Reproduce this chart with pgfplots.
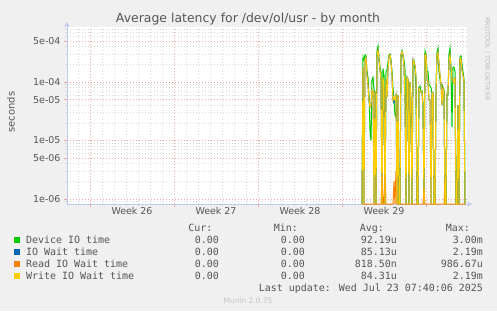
\documentclass[border=0pt]{standalone}
\usepackage{pgfplots}
\pgfplotsset{compat=1.18}
\usepackage{pgfplotstable}
\usepackage{fontspec}
\setmainfont{DejaVu Sans}
\newfontfamily\monofont{DejaVu Sans Mono}
\usetikzlibrary{arrows.meta}
\definecolor{bg}{HTML}{F0F0F0}
\definecolor{txt}{HTML}{555555}
\definecolor{majgrid}{HTML}{EAA8A8}
\definecolor{mingrid}{HTML}{D8D8D8}
\definecolor{axcol}{HTML}{C0C8F4}
\definecolor{cgreen}{HTML}{00CC00}
\definecolor{cblue}{HTML}{0066B3}
\definecolor{corange}{HTML}{FF8000}
\definecolor{cyellow}{HTML}{FFCC00}
% x = pixel column (12 per day, 2 h per step); values in seconds; 0 drawn at the bottom edge (8.2e-7)
\pgfplotstableread{
x g b r w
362 8.2e-7 8.2e-7 8.2e-7 8.2e-7
363 2.7e-4 1.8e-4 8.2e-7 1.8e-4
364 2.4e-4 8.2e-7 8.2e-7 8.2e-7
365 2.9e-4 2.4e-4 8.2e-7 2.4e-4
366 2.8e-4 2.6e-4 8.2e-7 2.6e-4
367 1.5e-4 1.3e-4 8.2e-7 1.3e-4
368 1.2e-4 8.9e-5 8.2e-7 8.9e-5
369 6.0e-5 4.9e-5 8.2e-7 4.9e-5
370 1.5e-5 3.7e-5 8.2e-7 3.7e-5
371 1.0e-5 4.0e-5 8.2e-7 4.0e-5
372 1.1e-4 7.3e-5 8.2e-7 7.3e-5
373 1.2e-4 6.9e-5 8.2e-7 6.9e-5
374 7.3e-5 8.2e-7 8.2e-7 8.2e-7
375 6.7e-5 6.9e-5 8.2e-7 6.9e-5
376 8.2e-7 8.2e-7 8.2e-7 8.2e-7
377 3.5e-4 2.9e-4 8.2e-7 2.9e-4
378 4.1e-4 3.5e-4 8.2e-7 3.5e-4
379 2.6e-4 2.4e-4 8.2e-7 2.4e-4
380 1.8e-4 1.6e-4 8.2e-7 1.6e-4
381 1.5e-4 1.1e-4 8.2e-7 1.1e-4
382 8.2e-7 8.2e-7 2.5e-6 8.2e-7
383 1.7e-4 9.0e-5 8.2e-7 1.2e-4
384 1.3e-4 7.3e-5 8.2e-7 7.3e-5
385 8.2e-7 8.2e-7 4.0e-6 8.2e-7
386 1.5e-4 1.1e-4 8.2e-7 1.1e-4
387 1.6e-4 5.5e-5 8.2e-7 5.5e-5
388 2.2e-4 1.6e-4 8.2e-7 1.6e-4
389 2.9e-4 2.8e-4 8.2e-7 2.8e-4
390 3.0e-4 2.9e-4 8.2e-7 2.9e-4
391 2.4e-4 2.2e-4 8.2e-7 2.2e-4
392 1.5e-4 1.3e-4 8.2e-7 1.3e-4
393 7.9e-5 4.9e-5 8.2e-7 4.9e-5
394 4.9e-5 4.4e-5 2.0e-6 5.5e-5
395 2.7e-5 4.9e-5 8.2e-7 4.9e-5
396 2.5e-5 6.0e-5 3.0e-6 6.0e-5
397 6.0e-5 8.2e-7 8.2e-7 8.2e-7
398 2.0e-5 6.0e-5 8.2e-7 6.0e-5
399 8.2e-7 8.2e-7 8.2e-7 8.2e-7
400 8.2e-7 8.2e-7 8.2e-7 8.2e-7
401 2.7e-4 3.0e-4 8.2e-7 3.0e-4
402 3.4e-4 3.3e-4 8.2e-7 3.3e-4
403 2.7e-4 2.9e-4 8.2e-7 2.9e-4
404 2.4e-4 1.8e-4 8.2e-7 1.8e-4
405 1.6e-4 4.4e-5 8.2e-7 4.4e-5
406 8.2e-7 8.2e-7 8.2e-7 8.2e-7
407 1.2e-4 1.2e-4 8.2e-7 1.2e-4
408 1.1e-4 1.1e-4 8.2e-7 1.1e-4
409 8.2e-7 8.2e-7 8.2e-7 8.2e-7
410 1.0e-4 1.0e-4 8.2e-7 1.0e-4
411 4.4e-5 4.4e-5 8.2e-7 4.4e-5
412 8.2e-7 8.2e-7 8.2e-7 8.2e-7
413 2.4e-4 2.4e-4 8.2e-7 2.4e-4
414 2.3e-4 2.1e-4 8.2e-7 2.1e-4
415 1.6e-4 1.9e-4 8.2e-7 1.9e-4
416 8.0e-5 1.2e-4 8.2e-7 1.2e-4
417 8.2e-7 8.2e-7 8.2e-7 8.2e-7
418 8.2e-7 8.2e-7 8.2e-7 8.2e-7
419 7.9e-5 7.9e-5 8.2e-7 7.9e-5
420 8.5e-5 7.3e-5 8.2e-7 7.3e-5
421 6.7e-5 6.7e-5 8.2e-7 6.7e-5
422 7.0e-5 6.7e-5 8.2e-7 6.7e-5
423 4.0e-5 4.0e-5 8.2e-7 4.0e-5
424 8.2e-7 8.2e-7 1.5e-6 8.2e-7
425 3.4e-4 3.0e-4 8.2e-7 3.0e-4
426 3.0e-4 2.9e-4 8.2e-7 2.9e-4
427 1.5e-4 1.1e-4 8.2e-7 1.1e-4
428 1.5e-4 1.0e-4 8.2e-7 1.0e-4
429 9.0e-5 4.9e-5 8.2e-7 4.9e-5
430 8.5e-5 4.9e-5 8.2e-7 4.9e-5
431 8.0e-5 8.2e-7 8.2e-7 8.2e-7
432 6.5e-5 6.5e-5 8.2e-7 6.5e-5
433 2.5e-5 6.5e-5 8.2e-7 6.5e-5
434 8.2e-7 8.2e-7 8.2e-7 8.2e-7
435 8.2e-7 8.2e-7 8.2e-7 8.2e-7
436 6.5e-5 6.5e-5 8.2e-7 6.5e-5
437 3.2e-4 2.9e-4 8.2e-7 2.9e-4
438 3.8e-4 3.2e-4 8.2e-7 3.2e-4
439 1.5e-4 2.0e-4 8.2e-7 2.0e-4
440 1.1e-4 1.3e-4 8.2e-7 1.3e-4
441 8.5e-5 8.9e-5 8.2e-7 8.9e-5
442 8.9e-5 4.0e-5 8.2e-7 4.0e-5
443 8.0e-5 7.9e-5 8.2e-7 7.9e-5
444 7.3e-5 6.5e-5 8.2e-7 6.5e-5
445 8.2e-7 8.2e-7 2.0e-6 8.2e-7
446 8.2e-7 8.2e-7 8.2e-7 8.2e-7
447 6.0e-5 6.5e-5 8.2e-7 6.5e-5
448 6.0e-5 6.5e-5 8.2e-7 6.5e-5
449 3.0e-4 2.2e-4 8.2e-7 2.2e-4
450 3.8e-4 2.9e-4 8.2e-7 2.9e-4
451 1.5e-4 1.8e-4 8.2e-7 1.8e-4
452 1.7e-5 1.1e-4 8.2e-7 1.1e-4
453 1.8e-4 1.1e-4 8.2e-7 1.1e-4
454 1.8e-4 9.8e-5 8.2e-7 9.8e-5
455 1.5e-4 1.2e-4 8.2e-7 1.2e-4
456 8.2e-7 8.2e-7 8.2e-7 8.2e-7
457 8.2e-7 8.2e-7 8.2e-7 8.2e-7
458 4.0e-5 4.0e-5 8.2e-7 4.0e-5
459 8.2e-7 8.2e-7 8.2e-7 8.2e-7
460 2.7e-4 2.6e-4 8.2e-7 2.6e-4
461 2.8e-4 2.5e-4 8.2e-7 2.5e-4
462 2.0e-4 1.6e-4 8.2e-7 1.6e-4
463 1.5e-4 1.3e-4 8.2e-7 1.3e-4
464 1.1e-4 1.0e-4 8.2e-7 1.0e-4
465 8.2e-7 8.2e-7 8.2e-7 8.2e-7
}\data

\begin{document}
\begin{tikzpicture}[x=1bp,y=1bp]
\fill[bg] (0,0) rectangle (497,311);
\useasboundingbox (0,0) rectangle (497,311);
\begin{axis}[
  at={(67bp,107bp)}, anchor=south west, scale only axis,
  width=400bp, height=177bp,
  xmin=67, xmax=467, ymode=log, ymin=8.2e-7, ymax=8.7e-4,
  axis background/.style={fill=white},
  axis x line=bottom, axis y line=left,
  axis line style={draw=axcol, line width=0.8bp, -{Stealth[length=5bp,width=5bp]}, shorten >=-5bp},
  xtick={90,174,258,342,426}, xticklabels={,,,,},
  minor xtick={78,102,114,126,138,150,162,186,198,210,222,234,246,270,282,294,306,318,330,354,366,378,390,402,414,438,450,462},
  extra x ticks={132,216,300,384},
  extra x tick labels={Week 26,Week 27,Week 28,Week 29},
  extra x tick style={grid=none, major tick length=0pt},
  ytick={1e-6,5e-6,1e-5,5e-5,1e-4,5e-4},
  yticklabels={1e-06,5e-06,1e-05,5e-05,1e-04,5e-04},
  minor ytick={9e-7,2e-6,3e-6,4e-6,6e-6,7e-6,8e-6,9e-6,2e-5,3e-5,4e-5,6e-5,7e-5,8e-5,9e-5,2e-4,3e-4,4e-4,6e-4,7e-4,8e-4},
  grid=both,
  major grid style={draw=majgrid, dash pattern=on 0.8bp off 2.2bp, line width=0.5bp},
  minor grid style={draw=mingrid, dash pattern=on 0.8bp off 2.2bp, line width=0.5bp},
  tick align=outside,
  major tick length=3bp, minor tick length=2bp,
  major tick style={draw=majgrid, line width=0.5bp},
  minor tick style={draw=mingrid, line width=0.5bp},
  ticklabel style={font=\fontsize{9.5}{11}\selectfont, text=txt},
  clip=true,
]
\addplot[color=cgreen, line width=1bp, mark=none] table[x=x,y=g]{\data};
\addplot[color=cblue, line width=1bp, mark=none] table[x=x,y=b]{\data};
\addplot[color=corange, line width=1bp, mark=none] table[x=x,y=r]{\data};
\addplot[color=cyellow, line width=1bp, mark=none] table[x=x,y=w]{\data};
\end{axis}
% title and side texts
\node[anchor=base, text=txt, font=\fontsize{12.5}{14}\selectfont, inner sep=0] at (248,289) {Average latency for /dev/ol/usr - by month};
\node[rotate=90, text=txt, font=\fontsize{10}{12}\selectfont, inner sep=0] at (11,199) {seconds};
\node[rotate=-90, text={rgb,255:red,190;green,190;blue,190}, font=\fontsize{6.5}{8}\selectfont, inner sep=0] at (487.5,252) {RRDTOOL / TOBI OETIKER};
% legend
\begin{scope}[every node/.style={inner sep=0, text=txt, font=\monofont\fontsize{10}{12}\selectfont}]
\node[anchor=base east] at (212.5,80) {Cur:};
\node[anchor=base east] at (298,80) {Min:};
\node[anchor=base east] at (384,80) {Avg:};
\node[anchor=base east] at (470,80) {Max:};
\fill[cgreen] (14,68) rectangle (20,74);
\fill[cblue] (14,56) rectangle (20,62);
\fill[corange] (14,44) rectangle (20,50);
\fill[cyellow] (14,32) rectangle (20,38);
\node[anchor=base west] at (26,67.5) {Device IO time};
\node[anchor=base west] at (26,55.5) {IO Wait time};
\node[anchor=base west] at (26,43.5) {Read IO Wait time};
\node[anchor=base west] at (26,31.5) {Write IO Wait time};
\node[anchor=base east] at (219,67.5) {0.00};
\node[anchor=base east] at (219,55.5) {0.00};
\node[anchor=base east] at (219,43.5) {0.00};
\node[anchor=base east] at (219,31.5) {0.00};
\node[anchor=base east] at (305,67.5) {0.00};
\node[anchor=base east] at (305,55.5) {0.00};
\node[anchor=base east] at (305,43.5) {0.00};
\node[anchor=base east] at (305,31.5) {0.00};
\node[anchor=base east] at (397,67.5) {92.19u};
\node[anchor=base east] at (397,55.5) {85.13u};
\node[anchor=base east] at (397,43.5) {818.50n};
\node[anchor=base east] at (397,31.5) {84.31u};
\node[anchor=base east] at (483,67.5) {3.00m};
\node[anchor=base east] at (483,55.5) {2.19m};
\node[anchor=base east] at (483,43.5) {986.67u};
\node[anchor=base east] at (483,31.5) {2.19m};
\node[anchor=base east] at (483,20) {Last update: Wed Jul 23 07:40:06 2025};
\end{scope}
\node[anchor=base, inner sep=0, text={rgb,255:red,195;green,195;blue,195}, font=\fontsize{7.5}{9}\selectfont] at (248,8) {Munin 2.0.75};
\end{tikzpicture}
\end{document}
